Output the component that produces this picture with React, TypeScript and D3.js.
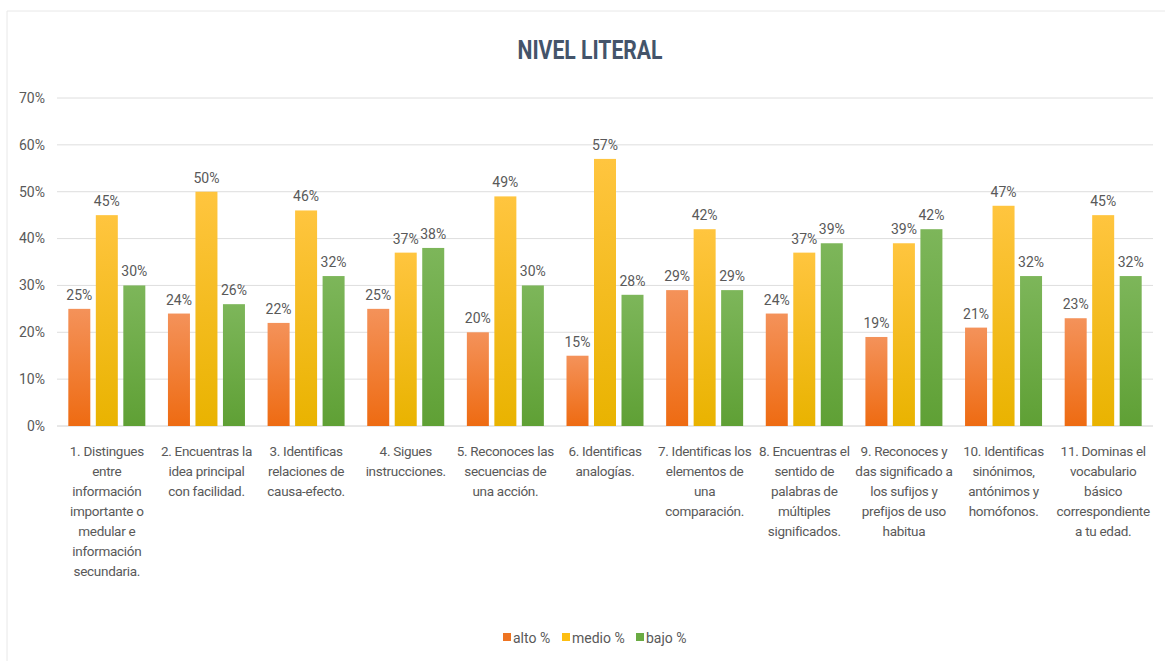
import * as d3 from "d3";
import { useEffect, useRef } from "react";

const categories: string[][] = [
  ["1.  Distingues", "entre", "información", "importante o", "medular e", "información", "secundaria."],
  ["2. Encuentras la", "idea principal", "con facilidad."],
  ["3. Identificas", "relaciones de", "causa-efecto."],
  ["4. Sigues", "instrucciones."],
  ["5. Reconoces las", "secuencias de", "una acción."],
  ["6. Identificas", "analogías."],
  ["7. Identificas los", "elementos de", "una", "comparación."],
  ["8. Encuentras el", "sentido de", "palabras de", "múltiples", "significados."],
  ["9. Reconoces y", "das significado a", "los sufijos y", "prefijos de uso", "habitua"],
  ["10. Identificas", "sinónimos,", "antónimos y", "homófonos."],
  ["11. Dominas el", "vocabulario", "básico", "correspondiente", "a tu edad."],
];

const alto = [25, 24, 22, 25, 20, 15, 29, 24, 19, 21, 23];
const medio = [45, 50, 46, 37, 49, 57, 42, 37, 39, 47, 45];
const bajo = [30, 26, 32, 38, 30, 28, 29, 39, 42, 32, 32];

const seriesNames = ["alto %", "medio %", "bajo %"];
const yTicks = [0, 10, 20, 30, 40, 50, 60, 70];

const FONT = "Roboto, 'Liberation Sans', sans-serif";

const App = () => {
  const chartRef = useRef<SVGSVGElement | null>(null);

  useEffect(() => {
    drawChart();
  }, []);

  const drawChart = () => {
    if (!chartRef.current) return;
    const svg = d3.select(chartRef.current);
    svg.selectAll("*").remove();

    const width = 1165;
    const margin = { top: 98, left: 57, right: 12 };
    const plotBottom = 426;

    // 그라디언트
    const defs = svg.append("defs");
    const grads = [
      { id: "g-alto", top: "#F4925A", bottom: "#EE6B12" },
      { id: "g-medio", top: "#FFC53F", bottom: "#E9B300" },
      { id: "g-bajo", top: "#7DB65A", bottom: "#5FA035" },
    ];
    grads.forEach((g) => {
      const lg = defs.append("linearGradient").attr("id", g.id).attr("x1", 0).attr("y1", 0).attr("x2", 0).attr("y2", 1);
      lg.append("stop").attr("offset", "0%").attr("stop-color", g.top);
      lg.append("stop").attr("offset", "100%").attr("stop-color", g.bottom);
    });
    const legendColors = ["#EE7422", "#FDBE12", "#6AAB43"];

    // 바깥 테두리
    svg.append("line").attr("x1", 7).attr("x2", 7).attr("y1", 11).attr("y2", 661).attr("stroke", "#e8e8e8");
    svg.append("line").attr("x1", 7).attr("x2", width).attr("y1", 11).attr("y2", 11).attr("stroke", "#e8e8e8");

    const x0 = d3
      .scaleBand<number>()
      .domain(d3.range(categories.length))
      .range([margin.left, width - margin.right]);

    const x1 = d3
      .scaleBand<number>()
      .domain([0, 1, 2])
      .range([x0.bandwidth() / 2 - 38.5, x0.bandwidth() / 2 + 38.5])
      .paddingInner(0.2);

    const y = d3.scaleLinear().domain([0, 70]).range([plotBottom, margin.top]);

    // 그리드
    svg
      .append("g")
      .selectAll("line")
      .data(yTicks)
      .join("line")
      .attr("x1", margin.left)
      .attr("x2", width - margin.right)
      .attr("y1", (d) => y(d))
      .attr("y2", (d) => y(d))
      .attr("stroke", (d) => (d === 0 ? "#d0d0d0" : "#dedede"))
      .attr("stroke-width", 1);

    // Y축 라벨
    svg
      .append("g")
      .selectAll("text")
      .data(yTicks)
      .join("text")
      .attr("x", 45)
      .attr("y", (d) => y(d))
      .attr("dy", "0.35em")
      .attr("text-anchor", "end")
      .style("font-family", FONT)
      .style("font-size", "14px")
      .style("fill", "#595959")
      .text((d) => `${d}%`);

    const data = categories.map((_, i) => [alto[i], medio[i], bajo[i]]);

    const groups = svg
      .append("g")
      .selectAll("g")
      .data(data)
      .join("g")
      .attr("transform", (_, i) => `translate(${x0(i)},0)`);

    groups
      .selectAll("rect")
      .data((d) => d)
      .join("rect")
      .attr("x", (_, j) => x1(j)!)
      .attr("width", x1.bandwidth())
      .attr("y", (d) => y(d))
      .attr("height", (d) => plotBottom - y(d))
      .attr("fill", (_, j) => `url(#${grads[j].id})`);

    groups
      .selectAll("text")
      .data((d) => d)
      .join("text")
      .attr("x", (_, j) => x1(j)! + x1.bandwidth() / 2)
      .attr("y", (d) => y(d) - 9)
      .attr("text-anchor", "middle")
      .style("font-family", FONT)
      .style("font-size", "14px")
      .style("fill", "#595959")
      .text((d) => `${d}%`);

    // 카테고리 라벨
    const catG = svg
      .append("g")
      .selectAll("text")
      .data(categories)
      .join("text")
      .attr("x", (_, i) => x0(i)! + x0.bandwidth() / 2)
      .attr("y", 456)
      .attr("text-anchor", "middle")
      .style("font-family", FONT)
      .style("font-size", "13.5px")
      .style("letter-spacing", "-0.3px")
      .style("fill", "#595959");
    catG
      .selectAll("tspan")
      .data((d) => d)
      .join("tspan")
      .attr("x", function () {
        return (this.parentNode as SVGTextElement).getAttribute("x");
      })
      .attr("dy", (_, k) => (k === 0 ? 0 : 20))
      .text((d) => d);

    // 제목
    svg
      .append("text")
      .attr("x", 590)
      .attr("y", 59)
      .attr("text-anchor", "middle")
      .attr("textLength", 145)
      .attr("lengthAdjust", "spacingAndGlyphs")
      .style("font-family", FONT)
      .style("font-size", "25px")
      .style("font-weight", "bold")
      .style("fill", "#44546A")
      .text("NIVEL LITERAL");

    // 범례
    const legendX = [503, 562, 636];
    const legend = svg
      .append("g")
      .selectAll("g")
      .data(seriesNames)
      .join("g")
      .attr("transform", (_, i) => `translate(${legendX[i]},638)`);
    legend
      .append("rect")
      .attr("x", 0)
      .attr("y", -5)
      .attr("width", 8)
      .attr("height", 8)
      .attr("fill", (_, i) => legendColors[i]);
    legend
      .append("text")
      .attr("x", 10)
      .attr("y", 0)
      .attr("dy", "0.35em")
      .style("font-family", FONT)
      .style("font-size", "14px")
      .style("fill", "#595959")
      .text((d) => d);
  };

  return (
    <svg
      ref={chartRef}
      width={1165}
      height={661}
      style={{ position: "absolute", left: 0, top: 0, background: "#fff" }}
    />
  );
};

export default App;
